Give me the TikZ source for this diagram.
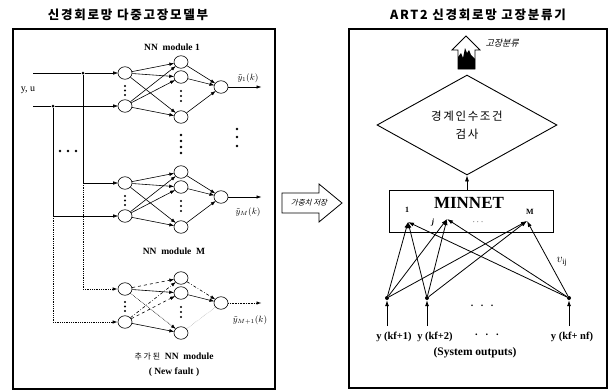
\documentclass[tikz,border=0pt]{standalone}
\usepackage{fontspec}
\setmainfont{Liberation Serif}
\newfontfamily\krsp[LetterSpace=14]{Noto Sans CJK KR}
\newfontfamily\kr{Noto Sans CJK KR}
\newfontfamily\krit[FakeSlant=0.25]{Noto Sans CJK KR}
\usetikzlibrary{shapes.geometric,arrows.meta}
\tikzset{
  neuron/.style={draw, ellipse, minimum width=14pt, minimum height=12.5pt, inner sep=0pt, line width=0.6pt, fill=white},
  conn/.style={-{Latex[length=5pt,width=3.5pt]}, line width=0.6pt, shorten >=-0.5pt},
  dconn/.style={conn, dashed},
  ddconn/.style={conn, dash dot},
  oconn/.style={conn, densely dotted, line width=0.8pt},
  bus/.style={line width=0.6pt},
  dotbus/.style={line width=0.8pt, densely dotted},
  jdot/.style={circle, fill, inner sep=0pt, minimum size=3pt},
  panel/.style={draw, line width=1.2pt},
  modlabel/.style={font=\bfseries\fontsize{9.5}{11}\selectfont},
  outlabel/.style={font=\fontsize{9}{10}\selectfont, inner sep=0pt},
  tconn/.style={-{Latex[length=6pt,width=4pt]}, line width=0.8pt},
  bnode/.style={circle, fill, inner sep=0pt, minimum size=4pt},
  title/.style={font=\krsp\bfseries\fontsize{12.5}{14}\selectfont},
  btxt/.style={font=\bfseries\fontsize{10.5}{12}\selectfont, inner sep=0pt}
}
\newcommand\nnmod[2]{%
  \node[neuron] (#1i1) at (125,73+#2) {};
  \node[neuron] (#1i2) at (125,106+#2) {};
  \node[neuron] (#1h1) at (181,62+#2) {};
  \node[neuron] (#1h2) at (181,77+#2) {};
  \node[neuron] (#1h3) at (181,117+#2) {};
  \node[neuron] (#1o)  at (221,87+#2) {};
  \coordinate (#1out) at (261,87+#2);
  \foreach \yy in {86,90.5,95}{\fill (125,\yy+#2) circle (1.2);}
  \foreach \yy in {91,96,101}{\fill (181,\yy+#2) circle (1.2);}
}
\begin{document}
\begin{tikzpicture}[x=1pt,y=-1pt]
\useasboundingbox (0,0) rectangle (611,391);
% titles
\node[title] (t1) at (128,15) {신경회로망 다중고장모델부};
\node[title] (t2) at (478,15) {ART2 신경회로망 고장분류기};
% panels
\draw[panel] (13,29) rectangle (275,389);
\draw[panel] (349,29) rectangle (607,388);

% ---------- left: NN modules ----------
\nnmod{a}{0}
\nnmod{m}{110}
\nnmod{n}{216}

\foreach \p in {a,m}{
  \foreach \s in {i1,i2}{
    \foreach \t in {h1,h2,h3}{\draw[conn] (\p\s) -- (\p\t);}
  }
  \foreach \t in {h1,h2,h3}{\draw[conn] (\p\t) -- (\p o);}
  \draw[conn] (\p o) -- (\p out);
}
% new module (dashed connections)
\draw[dconn] (ni1) -- (nh1);
\draw[conn] (ni1) -- (nh2);
\draw[conn, densely dotted] (ni1) -- (nh3);
\draw[ddconn] (ni2) -- (nh1);
\draw[dconn] (ni2) -- (nh2);
\draw[conn] (ni2) -- (nh3);
\draw[ddconn] (nh1) -- (no);
\draw[conn] (nh2) -- (no);
\draw[densely dotted, line width=0.4pt, gray] (nh3) -- (no);
\draw[oconn] (no) -- (nout);

% module labels
\node[modlabel] (l1) at (172,47) {NN\ \ module 1};
\node[modlabel] (lm) at (174,251) {NN\ \ module\ \ M};
\node[modlabel] (ln) at (174,357) {{\kr\mdseries\fontsize{8}{9}\selectfont 추 가 된}\ \ NN\ \ module};
\node[modlabel] (ln2) at (174,372) {( New fault )};
\node[outlabel] (y1) at (248,78) {$\tilde{y}_1(k)$};
\node[outlabel] (ym) at (248,212) {$\tilde{y}_M(k)$};
\node[outlabel] (yn) at (250,320) {$\tilde{y}_{M+1}(k)$};

% vertical dots between modules
\foreach \yy in {135,141,147,153}{\fill (181,\yy) circle (1.3);}
\foreach \yy in {129,137,146}{\fill (237,\yy) circle (1.3);}
\foreach \xx in {60,68,76}{\fill (\xx,151) circle (1.3);}

% inputs and buses
\node[font=\fontsize{10}{12}\selectfont] (yu) at (28,90) {y, u};
\coordinate (s1) at (33,73);
\coordinate (s2) at (33,106);
\node[jdot] (j1) at (83,73) {};
\node[jdot] (j2) at (53,106) {};
\coordinate (c1) at (83,183);
\coordinate (c2) at (53,216);
\coordinate (d1) at (83,289);
\coordinate (d2) at (53,322);
\draw[bus] (s1) -- (j1);
\draw[conn] (j1) -- (ai1);
\draw[bus] (s2) -- (j2);
\draw[conn] (j2) -- (ai2);
\draw[bus] (j1) -- (c1);
\draw[conn] (c1) -- (mi1);
\draw[bus] (j2) -- (c2);
\draw[conn] (c2) -- (mi2);
\draw[dotbus] (c1) -- (d1);
\draw[dotbus, -{Latex[length=5pt,width=3.5pt]}] (d1) -- (ni1);
\draw[dotbus] (c2) -- (d2);
\draw[dotbus, -{Latex[length=5pt,width=3.5pt]}] (d2) -- (ni2);

% ---------- middle arrow ----------
\draw[line width=0.8pt, fill=white] (282,193) -- (319,193) -- (319,184) -- (342,203) -- (319,222) -- (319,213) -- (282,213) -- cycle;
\node[font=\krit\fontsize{7.5}{9}\selectfont] (gw) at (309,203) {가중치 저장};

% ---------- right: ART2 ----------
% top block arrow
\draw[line width=0.8pt, fill=white] (466,36) -- (452,50) -- (458,50) -- (458,69) -- (475,69) -- (475,50) -- (480,50) -- cycle;
\fill (458,69) -- (458,57) -- (461,53) -- (463,58) -- (465,48) -- (467,53) -- (469,50) -- (471,55) -- (475,59) -- (475,69) -- cycle;
\node[font=\krit\fontsize{9}{10}\selectfont, anchor=west] (cls) at (482,43) {고장분류};

\node[draw, diamond, minimum width=180pt, minimum height=76pt, inner sep=0pt, line width=0.9pt, align=center, font=\krsp\fontsize{11.5}{18}\selectfont] (dia) at (467,125) {경계인수조건\\검사};

\node[draw, line width=0.9pt, minimum width=164pt, minimum height=42pt, inner sep=0pt] (mn) at (471,211) {};
\node[font=\bfseries\fontsize{17}{18}\selectfont] (mnt) at (469,203) {MINNET};
\draw[tconn, line width=0.7pt] (mn.north -| dia.south) -- (dia.south);

\coordinate (p1) at (408,222);
\coordinate (pj) at (447,219);
\coordinate (pM) at (527,221);
\node[font=\bfseries\fontsize{8}{9}\selectfont] (n1) at (407,210) {1};
\node[font=\bfseries\itshape\fontsize{8}{9}\selectfont] (nj) at (433,223) {j};
\node[font=\bfseries\fontsize{8}{9}\selectfont] (nM) at (530,212) {M};
\node[font=\bfseries\fontsize{9}{9}\selectfont] (ndots) at (478,222) {$\cdots$};

\node[bnode] (b1) at (387,298) {};
\node[bnode] (b2) at (427,298) {};
\node[bnode] (b3) at (569,298) {};
\foreach \b in {b1,b2,b3}{
  \foreach \p in {p1,pj,pM}{\draw[tconn] (\b) -- (\p);}
}
\coordinate (q1) at (387,326);
\coordinate (q2) at (427,326);
\coordinate (q3) at (569,326);
\draw[tconn] (q1) -- (b1);
\draw[tconn] (q2) -- (b2);
\draw[tconn] (q3) -- (b3);
\node[font=\fontsize{12}{12}\selectfont] (vij) at (562,262) {$v_{\mathrm{ij}}$};
\node[font=\bfseries\fontsize{10}{10}\selectfont] (md) at (482,306) {.\ \ \ .\ \ \ .};

\node[btxt] (o1) at (394,337) {y (kf+1)};
\node[btxt] (o2) at (435,337) {y (kf+2)};
\node[btxt] (o3) at (487,335) {.\ \ \ .\ \ \ .};
\node[btxt] (o4) at (572,337) {y (kf+ nf)};
\node[font=\bfseries\fontsize{11.5}{13}\selectfont] (so) at (475,353) {(System outputs)};
\end{tikzpicture}
\end{document}
